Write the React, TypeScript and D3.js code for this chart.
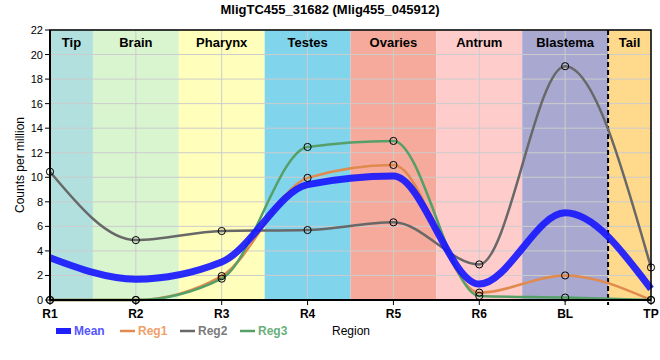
import React from "react";
import * as d3 from "d3";

const title = "MligTC455_31682 (Mlig455_045912)";
const xLabels = ["R1", "R2", "R3", "R4", "R5", "R6", "BL", "TP"];
const regionNames = ["Tip", "Brain", "Pharynx", "Testes", "Ovaries", "Antrum", "Blastema", "Tail"];
const regionColors = ["#b2e0de", "#d8f5d0", "#ffffbb", "#80d4ec", "#f5aa9c", "#ffcccc", "#a8a8d0", "#ffd98c"];
const yTicks = [0, 2, 4, 6, 8, 10, 12, 14, 16, 18, 20, 22];

const meanValues = [3.45, 1.7, 3.1, 9.4, 10.1, 1.3, 7.1, 0.9];
const reg1Values = [0, 0, 1.95, 9.95, 11.0, 0.6, 2.0, 0];
const reg2Values = [10.45, 4.88, 5.62, 5.7, 6.33, 2.9, 19.05, 2.65];
const reg3Values = [0, 0, 1.74, 12.47, 12.96, 0.33, 0.2, 0];

const seriesNames = ["Reg1", "Reg2", "Reg3"];
const seriesColors = ["#e08a4e", "#686868", "#55a068"];
const legendTextColors = ["#f0a068", "#7a7a7a", "#68b07a"];

const W = 660;
const H = 360;
const L = 50;
const R = 651;
const T = 30;
const B = 300;

export default function App() {
  const x = d3.scaleLinear().domain([0, xLabels.length - 1]).range([L, R]);
  const y = d3.scaleLinear().domain([0, 22]).range([B, T]);
  const line = d3
    .line<number>()
    .x((_, i) => x(i))
    .y((v) => y(v))
    .curve(d3.curveMonotoneX);
  const regs = [reg1Values, reg2Values, reg3Values];
  const font = "Liberation Sans, Arial, sans-serif";

  return (
    <svg
      width={W}
      height={H}
      style={{ position: "absolute", left: 0, top: 0, background: "#fff" }}
      fontFamily={font}
    >
      <text x={330} y={14} textAnchor="middle" fontWeight="bold" fontSize={13}>
        {title}
      </text>
      {regionNames.map((name, i) => {
        const x0 = Math.max(L, x(i - 0.5));
        const x1 = Math.min(R, x(i + 0.5));
        return (
          <g key={name}>
            <rect x={x0} y={T} width={x1 - x0} height={B - T} fill={regionColors[i]} />
          </g>
        );
      })}
      {yTicks.map((t) => (
        <line key={"gy" + t} x1={L} x2={R} y1={y(t)} y2={y(t)} stroke="#cccccc" strokeWidth={1} />
      ))}
      {xLabels.map((lab, i) => (
        <line key={"gx" + lab} x1={x(i)} x2={x(i)} y1={T} y2={B} stroke="#cccccc" strokeWidth={1} />
      ))}
      {regionNames.map((name, i) => {
        const x0 = Math.max(L, x(i - 0.5));
        const x1 = Math.min(R, x(i + 0.5));
        return (
          <text key={"rl" + name} x={(x0 + x1) / 2} y={47} textAnchor="middle" fontWeight="bold" fontSize={13}>
            {name}
          </text>
        );
      })}
      <line x1={x(6.5)} x2={x(6.5)} y1={T} y2={B + 5} stroke="#000" strokeWidth={2} strokeDasharray="5,3" />
      {regs.map((vals, k) => (
        <path key={"l" + k} d={line(vals) || ""} fill="none" stroke={seriesColors[k]} strokeWidth={2.5} />
      ))}
      <path d={line(meanValues) || ""} fill="none" stroke="#1515ff" strokeOpacity={0.9} strokeWidth={7} />
      {regs.map((vals, k) =>
        vals.map((v, i) => (
          <circle key={"m" + k + "-" + i} cx={x(i)} cy={y(v)} r={3.6} fill="none" stroke="#000" strokeWidth={1} />
        ))
      )}
      <rect x={L} y={T} width={R - L} height={B - T} fill="none" stroke="#000" strokeWidth={1.5} />
      <line x1={L} x2={L} y1={T} y2={B} stroke="#000" strokeWidth={2} />
      <line x1={L} x2={R} y1={B} y2={B} stroke="#000" strokeWidth={2} />
      {yTicks.map((t) => (
        <g key={"yt" + t}>
          <line x1={L - 5} x2={L} y1={y(t)} y2={y(t)} stroke="#000" strokeWidth={1} />
          <text x={L - 7} y={y(t) + 4} textAnchor="end" fontSize={11}>
            {t}
          </text>
        </g>
      ))}
      {xLabels.map((lab, i) => (
        <g key={"xt" + lab}>
          <line x1={x(i)} x2={x(i)} y1={B} y2={B + 5} stroke="#000" strokeWidth={1} />
          <text x={x(i)} y={318} textAnchor="middle" fontWeight="bold" fontSize={12}>
            {lab}
          </text>
        </g>
      ))}
      <text transform={`translate(24,${(T + B) / 2}) rotate(-90)`} textAnchor="middle" fontSize={12}>
        Counts per million
      </text>
      <text x={332} y={335} fontSize={12}>
        Region
      </text>
      <rect x={56} y={328} width={15} height={6} fill="#2020ff" />
      <text x={74} y={335} fontSize={12} fontWeight="bold" fill="#5555ff">
        Mean
      </text>
      {seriesNames.map((n, k) => (
        <g key={"lg" + n}>
          <line x1={120 + k * 60} x2={135 + k * 60} y1={331} y2={331} stroke={seriesColors[k]} strokeWidth={2.5} />
          <text x={138 + k * 60} y={335} fontSize={12} fontWeight="bold" fill={legendTextColors[k]}>
            {n}
          </text>
        </g>
      ))}
    </svg>
  );
}
